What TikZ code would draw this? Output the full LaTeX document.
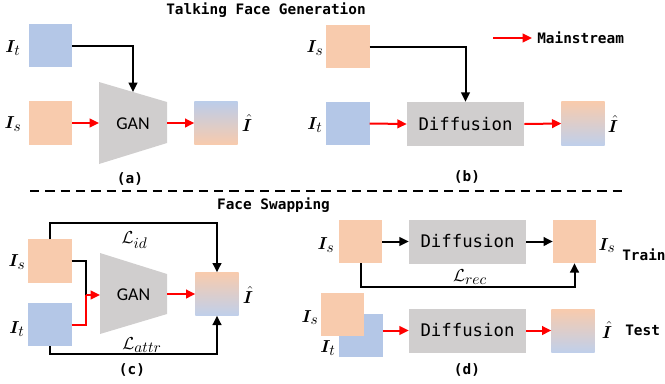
\RequirePackage{fix-cm}
\documentclass[tikz,border=0pt]{standalone}
\usepackage{amsmath,bm}
\usepackage{fontspec}
\newfontfamily\ganfont{Carlito}
\newfontfamily\codefont{DejaVu Sans Mono}
\usetikzlibrary{arrows.meta}
\DeclareMathSizes{13}{13}{11.5}{9}
\definecolor{srcor}{HTML}{F8CBAD}
\definecolor{tgtbl}{HTML}{B4C7E7}
\definecolor{boxgr}{HTML}{D0CECE}
\tikzset{
  img/.style={minimum size=32.5pt,inner sep=0pt,outer sep=0pt},
  src/.style={img,fill=srcor},
  tgt/.style={img,fill=tgtbl},
  % result boxes: blue on top / orange on top
  resa/.style={img,top color=tgtbl!90!white,middle color=tgtbl!70!srcor,bottom color=srcor},
  resb/.style={img,top color=srcor,middle color=srcor!35!tgtbl,bottom color=tgtbl!85!white},
  diff/.style={fill=boxgr,minimum width=87.75pt,minimum height=33pt,inner sep=0pt,
    font=\codefont\fontsize{13}{15}\selectfont},
  gan/.style={fill=boxgr},
  gantxt/.style={font=\ganfont\fontsize{13.5}{15}\selectfont,inner sep=0pt},
  lab/.style={font=\fontsize{13}{15}\selectfont,inner sep=0pt},
  heading/.style={font=\codefont\bfseries\fontsize{10.8}{13}\selectfont,inner sep=0pt},
  mainarr/.style={draw=red,line width=1.5pt,-{Triangle[length=7pt,width=6.5pt]}},
  condarr/.style={draw=black,line width=1.5pt,-{Triangle[length=7pt,width=6.5pt]}},
  divider/.style={line width=1.5pt,dash pattern=on 7pt off 4.5pt},
}
\begin{document}
\begin{tikzpicture}[x=0.75pt,y=0.75pt]
\useasboundingbox (0,0) rectangle (665,-383);

% headings
\node[heading] (tfg) at (266,-10) {Talking Face Generation};
\node[heading] (fsw) at (273.5,-205) {Face Swapping};
\draw[divider] (30,-190.5) -- (625,-190.5);

% legend
\coordinate (leg-s) at (493,-38);
\coordinate (leg-e) at (532,-38);
\draw[mainarr] (leg-s) -- (leg-e);
\node[heading,anchor=west] (legtxt) at (537,-38) {Mainstream};

% (a) GAN, talking face
\node[tgt] (ita) at (50.5,-45.5) {};
\node[src] (isa) at (50.5,-123) {};
\node[resa] (outa) at (216,-123) {};
\fill[gan] (99,-82) -- (167,-102) -- (167,-143) -- (99,-164) -- cycle;
\node[gantxt] (gana) at (133,-124) {GAN};
\coordinate (gana-top) at (133,-92);
\coordinate (gana-in) at (99,-123);
\coordinate (gana-out) at (167,-123);
\node[lab] (ita-l) at (13,-48) {$\bm{I}_t$};
\node[lab] (isa-l) at (13,-124) {$\bm{I}_s$};
\node[lab] (outa-l) at (247,-123) {$\hat{\bm{I}}$};
\draw[condarr] (ita.east) -| (gana-top);
\draw[mainarr] (isa.east) -- (gana-in);
\draw[mainarr] (gana-out) -- (outa.west);
\node[heading] (cap-a) at (130,-179) {(a)};

% (b) diffusion, talking face
\node[src] (isb) at (348,-46.5) {};
\node[tgt] (itb) at (348,-123.5) {};
\node[diff] (diffb) at (465.5,-124) {Diffusion};
\node[resb] (outb) at (583,-123.5) {};
\node[lab] (isb-l) at (315,-48) {$\bm{I}_s$};
\node[lab] (itb-l) at (315,-125) {$\bm{I}_t$};
\node[lab] (outb-l) at (613,-124) {$\hat{\bm{I}}$};
\draw[condarr] (isb.east) -| (diffb.north);
\draw[mainarr] (itb.east) -- (diffb.west);
\draw[mainarr] (diffb.east) -- (outb.west);
\node[heading] (cap-b) at (467,-177) {(b)};

% (c) GAN, face swapping
\node[src] (isc) at (50,-261) {};
\node[tgt] (itc) at (50,-324.5) {};
\node[resb] (outc) at (217,-294) {};
\fill[gan] (100,-253) -- (167,-274) -- (167,-314) -- (100,-334) -- cycle;
\node[gantxt] (ganc) at (133.5,-295) {GAN};
\coordinate (join) at (86,-295);
\coordinate (ganc-in) at (100,-295);
\coordinate (ganc-out) at (167,-294);
\node[lab] (isc-l) at (17,-262) {$\bm{I}_s$};
\node[lab] (itc-l) at (17,-329) {$\bm{I}_t$};
\node[lab] (outc-l) at (248,-295) {$\hat{\bm{I}}$};
\draw[line width=1.5pt] (isc.east) -| (join);
\draw[red,line width=1.5pt] (itc.east) -| (join);
\draw[mainarr] (join) -- (ganc-in);
\draw[mainarr] (ganc-out) -- (outc.west);
\draw[condarr] (isc.north) -- ++(0,16) -| (outc.north);
\draw[condarr] (itc.south) -- ++(0,-8) -| (outc.south);
\node[lab] (lid) at (134.5,-240) {$\mathcal{L}_{id}$};
\node[lab] (lattr) at (142,-345) {$\mathcal{L}_{attr}$};
\node[heading] (cap-c) at (132,-370) {(c)};

% (d) diffusion, face swapping
\node[src] (isd) at (360.5,-241.5) {};
\node[diff] (diffd) at (467.5,-241.5) {Diffusion};
\node[src] (outd) at (574.5,-241.5) {};
\node[lab] (isd-l) at (326,-245) {$\bm{I}_s$};
\node[lab] (outd-l) at (607,-245.5) {$\bm{I}_s$};
\node[heading,anchor=west] (train) at (622,-255) {Train};
\draw[condarr] (isd.east) -- (diffd.west);
\draw[condarr] (diffd.east) -- (outd.west);
\draw[condarr] (isd.south) -- ++(0,-24) -| (outd.south);
\node[lab] (lrec) at (470,-277) {$\mathcal{L}_{rec}$};

\node[tgt] (itt) at (361,-335.5) {};
\node[src] (ist) at (342.5,-314.5) {};
\node[diff] (difft) at (467.5,-330.5) {Diffusion};
\node[resb] (outt) at (573,-331) {};
\node[lab] (ist-l) at (310,-317.5) {$\bm{I}_s$};
\node[lab] (itt-l) at (328,-348) {$\bm{I}_t$};
\node[lab] (outt-l) at (607,-330) {$\hat{\bm{I}}$};
\node[heading,anchor=west] (test) at (625,-330) {Test};
\draw[mainarr] (itt.east |- difft.west) -- (difft.west);
\draw[mainarr] (difft.east) -- (outt.west |- difft.east);
\node[heading] (cap-d) at (467,-370) {(d)};
\end{tikzpicture}
\end{document}
